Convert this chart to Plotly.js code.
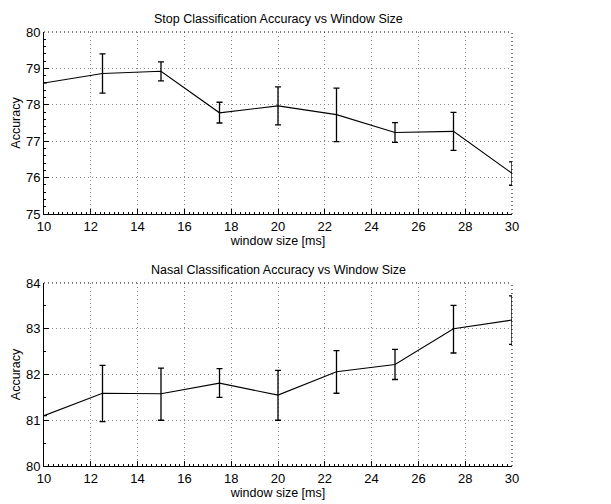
<!DOCTYPE html>
<html><head><meta charset="utf-8">
<script src="https://cdn.plot.ly/plotly-3.0.1.min.js"></script>
<style>body{margin:0;background:#fff}#c{width:611px;height:504px}</style>
</head><body><div id="c"></div>
<script>
const windowSize = [10, 12.5, 15, 17.5, 20, 22.5, 25, 27.5, 30];
const stopAcc = [78.60, 78.86, 78.92, 77.78, 77.97, 77.73, 77.24, 77.27, 76.12];
const stopErrUp = [0, 0.54, 0.26, 0.29, 0.52, 0.73, 0.27, 0.52, 0.31];
const stopErrDown = [0, 0.54, 0.26, 0.28, 0.52, 0.74, 0.27, 0.52, 0.33];
const nasalAcc = [81.10, 81.59, 81.58, 81.81, 81.55, 82.06, 82.22, 83.00, 83.19];
const nasalErrUp = [0, 0.61, 0.56, 0.32, 0.54, 0.46, 0.33, 0.51, 0.53];
const nasalErrDown = [0, 0.62, 0.58, 0.31, 0.55, 0.47, 0.33, 0.53, 0.53];
const xTicks = [10, 12, 14, 16, 18, 20, 22, 24, 26, 28, 30];
const stopTicks = [75, 76, 77, 78, 79, 80];
const nasalTicks = [80, 81, 82, 83, 84];

const FONT = 'Liberation Sans, Arial, sans-serif';
const DOT = '1px,3px';
function tr(y, up, down, xa, ya) {
  return {x: windowSize, y: y, xaxis: xa, yaxis: ya, type: 'scatter', mode: 'lines',
    line: {color: '#000', width: 1.1},
    error_y: {type: 'data', symmetric: false, array: up, arrayminus: down, color: '#000', thickness: 1.3, width: 3},
    showlegend: false, hoverinfo: 'none'};
}
function common(ticks, mdt) {
  return {tickmode: 'linear', tick0: ticks[0], dtick: ticks[1] - ticks[0],
    range: [ticks[0], ticks[ticks.length - 1]],
    ticks: 'inside', ticklen: 5, tickcolor: '#000',
    showline: true, linecolor: '#000', linewidth: 1, zeroline: false, mirror: false,
    showgrid: true, gridcolor: '#888', griddash: DOT, gridwidth: 1,
    tickfont: {family: FONT, size: 13, color: '#000'},
    minor: {dtick: mdt, ticks: 'inside', ticklen: 2, tickcolor: '#000', tickwidth: 1, showgrid: false}};
}
function xax(anchor) {
  return Object.assign(common(xTicks, 0.2), {anchor: anchor,
    title: {text: 'window size [ms]', font: {family: FONT, size: 12.5, color: '#000'}, standoff: 1}});
}
function yax(anchor, ticks, domain, mdt) {
  return Object.assign(common(ticks, mdt), {anchor: anchor, domain: domain,
    title: {text: 'Accuracy', font: {family: FONT, size: 12.5, color: '#000'}, standoff: 2}});
}
const edge = (xr, yr, top) => ({type: 'line', xref: xr + ' domain', yref: yr + ' domain',
  x0: top ? 0 : 1, x1: 1, y0: top ? 1 : 0, y1: 1, line: {color: '#000', width: 1, dash: DOT}});
const layout = {
  width: 611, height: 504, paper_bgcolor: '#fff', plot_bgcolor: '#fff',
  margin: {l: 44, r: 99, t: 32, b: 38},
  xaxis: xax('y'), yaxis: yax('x', stopTicks, [0.5806, 1], 0.2),
  xaxis2: xax('y2'), yaxis2: yax('x2', nasalTicks, [0, 0.4217], 0.5),
  shapes: [edge('x', 'y', true), edge('x', 'y', false), edge('x2', 'y2', true), edge('x2', 'y2', false)],
  annotations: [
    {text: 'Stop Classification Accuracy vs Window Size', xref: 'x domain', yref: 'y domain', x: 0.5, y: 1, yshift: 4,
     xanchor: 'center', yanchor: 'bottom', showarrow: false, font: {family: FONT, size: 12.5, color: '#000'}},
    {text: 'Nasal Classification Accuracy vs Window Size', xref: 'x2 domain', yref: 'y2 domain', x: 0.5, y: 1, yshift: 4,
     xanchor: 'center', yanchor: 'bottom', showarrow: false, font: {family: FONT, size: 12.5, color: '#000'}}
  ]
};
Plotly.newPlot('c', [tr(stopAcc, stopErrUp, stopErrDown, 'x', 'y'), tr(nasalAcc, nasalErrUp, nasalErrDown, 'x2', 'y2')], layout, {staticPlot: true});
</script></body></html>
